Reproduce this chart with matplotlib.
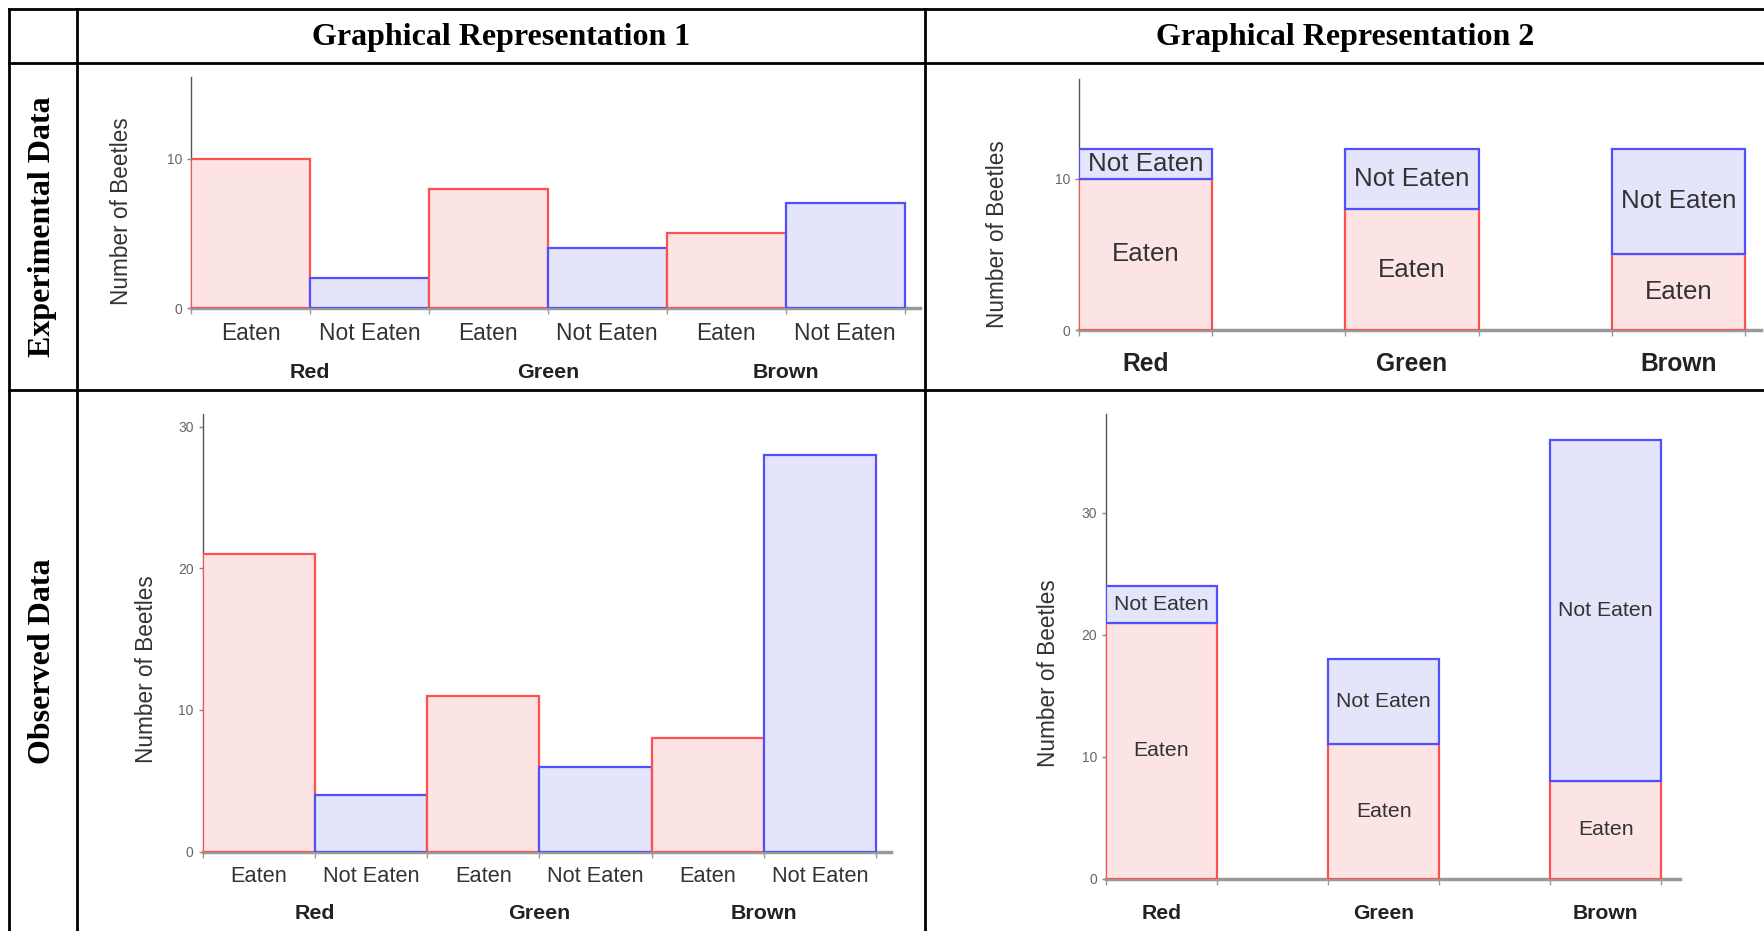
import numpy as np
import matplotlib
matplotlib.use("Agg")
import matplotlib.pyplot as plt
from matplotlib.lines import Line2D

# %% data
colors = ["Red", "Green", "Brown"]
outcomes = ["Eaten", "Not Eaten"]

# experimental data
exp_eaten = [10, 8, 5]
exp_not_eaten = [2, 4, 7]

# observed data (representation 1)
obs_eaten = [21, 11, 8]
obs_not_eaten = [4, 6, 28]

# observed data as drawn in representation 2
obs2_eaten = [21, 11, 8]
obs2_not_eaten = [3, 7, 28]

col_headers = ["Graphical Representation 1", "Graphical Representation 2"]
row_headers = ["Experimental Data", "Observed Data"]

# %% style
W, H = 1764, 931
pink, red = "#fde4e4", "#ff5050"
lilac, blue = "#e4e4fb", "#5050ff"
sans = ["Liberation Sans", "DejaVu Sans"]
serif = ["Liberation Serif", "DejaVu Serif"]

fig = plt.figure(figsize=(W / 100, H / 100), dpi=100)


def px_axes(left, right, top, bottom):
    return fig.add_axes([left / W, 1 - bottom / H, (right - left) / W, (bottom - top) / H])


def hline(y, x0=9, x1=W):
    fig.add_artist(Line2D([x0 / W, x1 / W], [1 - y / H, 1 - y / H],
                          transform=fig.transFigure, color="black", lw=2))


def vline(x, y0=9, y1=H):
    fig.add_artist(Line2D([x / W, x / W], [1 - y0 / H, 1 - y1 / H],
                          transform=fig.transFigure, color="black", lw=2))


def style_axes(ax, ymax, yticks, lab_xy):
    ax.set_ylim(0, ymax)
    ax.set_yticks(yticks)
    for s in ["top", "right"]:
        ax.spines[s].set_visible(False)
    ax.spines["left"].set_color("#555555")
    ax.spines["left"].set_linewidth(1)
    ax.spines["bottom"].set_color("#999999")
    ax.spines["bottom"].set_linewidth(2.5)
    ax.tick_params(axis="y", length=3, width=1, color="#888888",
                   labelcolor="#666666", labelsize=10)
    for t in ax.get_yticklabels():
        t.set_family(sans)
    ax.tick_params(axis="x", which="minor", length=4, width=1, color="#999999")
    ax.set_ylabel("Number of Beetles", family=sans, fontsize=16.3, color="#333333")
    ax.yaxis.label.set_va("center")
    ax.yaxis.set_label_coords(*lab_xy)


def draw_grouped(ax, eaten, not_eaten, ymax, yticks, lab_xy, fs, fs_grp, pad, grp_off):
    vals = []
    for e, n in zip(eaten, not_eaten):
        vals += [e, n]
    pos = np.arange(len(vals))
    fc = [pink, lilac] * len(eaten)
    ec = [red, blue] * len(eaten)
    ax.bar(pos, vals, width=1, align="edge", color=fc, edgecolor=ec, lw=1.6, zorder=3)
    ax.set_xlim(0, len(vals) + 0.13)
    ax.set_xticks(pos + 0.5, outcomes * len(eaten))
    ax.set_xticks(np.arange(len(vals) + 1), minor=True)
    ax.tick_params(axis="x", which="major", length=0, pad=pad,
                   labelsize=fs, labelcolor="#333333")
    for t in ax.get_xticklabels():
        t.set_family(sans)
        t.set_va("center")
    for i, c in enumerate(colors):
        ax.annotate(c, xy=(2 * i + 1, 0), xycoords=("data", "axes fraction"),
                    xytext=(0, -grp_off), textcoords="offset pixels",
                    ha="center", va="center", fontsize=fs_grp, fontweight="bold",
                    family=sans, color="#222222")
    style_axes(ax, ymax, yticks, lab_xy)


def draw_stacked(ax, eaten, not_eaten, ymax, yticks, lab_xy, fs, fs_cat, pad, xmax):
    pos = np.arange(len(eaten))
    ax.bar(pos, eaten, width=0.5, align="edge", color=pink, edgecolor=red, lw=1.6, zorder=3)
    ax.bar(pos, not_eaten, bottom=eaten, width=0.5, align="edge",
           color=lilac, edgecolor=blue, lw=1.6, zorder=3)
    for p, e, n in zip(pos, eaten, not_eaten):
        ax.text(p + 0.25, e / 2, "Eaten", ha="center", va="center",
                fontsize=fs, family=sans, color="#333333", zorder=4)
        ax.text(p + 0.25, e + n / 2, "Not Eaten", ha="center", va="center",
                fontsize=fs, family=sans, color="#333333", zorder=4)
    ax.set_xlim(0, xmax)
    ax.set_xticks(pos + 0.25, colors)
    ax.set_xticks(np.concatenate([pos, pos + 0.5]), minor=True)
    ax.tick_params(axis="x", which="major", length=0, pad=pad,
                   labelsize=fs_cat, labelcolor="#222222")
    for t in ax.get_xticklabels():
        t.set_family(sans)
        t.set_fontweight("bold")
        t.set_va("center")
    style_axes(ax, ymax, yticks, lab_xy)


# %% table grid
hline(9)
hline(63)
hline(390)
vline(9)
vline(77)
vline(925)

fig.text(501 / W, 1 - 37 / H, col_headers[0], ha="center", va="center",
         family=serif, fontsize=23, fontweight="bold")
fig.text(1345 / W, 1 - 37 / H, col_headers[1], ha="center", va="center",
         family=serif, fontsize=23, fontweight="bold")
fig.text(43 / W, 1 - 227 / H, row_headers[0], ha="center", va="center",
         rotation=90, family=serif, fontsize=23, fontweight="bold")
fig.text(43 / W, 1 - 661 / H, row_headers[1], ha="center", va="center",
         rotation=90, family=serif, fontsize=23, fontweight="bold")

# %% charts
ax1 = px_axes(191, 920, 76.5, 308)
draw_grouped(ax1, exp_eaten, exp_not_eaten, 15.5, [0, 10], (-0.095, 0.417),
             fs=16.4, fs_grp=15.4, pad=18.7, grp_off=64)

ax2 = px_axes(1079, 1761, 79, 330)
draw_stacked(ax2, exp_eaten, exp_not_eaten, 16.6, [0, 10], (-0.12, 0.382),
             fs=18.6, fs_cat=17.7, pad=24.8, xmax=2.56)

ax3 = px_axes(202.5, 891, 414, 851.6)
draw_grouped(ax3, obs_eaten, obs_not_eaten, 30.9, [0, 10, 20, 30], (-0.081, 0.417),
             fs=15.7, fs_grp=15.4, pad=18, grp_off=62)

ax4 = px_axes(1106, 1680, 414, 878.6)
draw_stacked(ax4, obs2_eaten, obs2_not_eaten, 38.1, [0, 10, 20, 30], (-0.1, 0.443),
             fs=15.3, fs_cat=15.2, pad=25.2, xmax=2.585)

fig.savefig("out.png", dpi=100)
